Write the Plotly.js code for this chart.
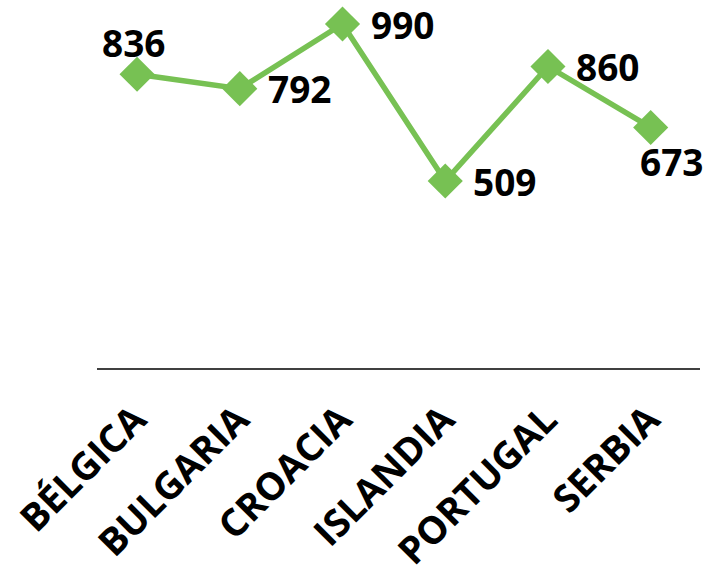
<!DOCTYPE html>
<html>
<head>
<meta charset="utf-8">
<script src="https://cdn.plot.ly/plotly-3.0.1.min.js"></script>
<style>html,body{margin:0;padding:0;background:#fff;}#chart{width:718px;height:579px;}</style>
</head>
<body>
<div id="chart"></div>
<script>
const categories = ["BÉLGICA", "BULGARIA", "CROACIA", "ISLANDIA", "PORTUGAL", "SERBIA"];
const values = [836, 792, 990, 509, 860, 673];
const labelPlacement = ["above", "right", "right", "right", "right", "below"];

const green = "#77C153";
const labelFont = {family: "Open Sans", size: 37, color: "#000", weight: "bold"};

const trace = {
  x: categories.map((c, i) => i),
  y: values,
  mode: "lines+markers",
  line: {color: green, width: 5.5},
  marker: {symbol: "diamond", size: 27, color: green},
  cliponaxis: false,
  hoverinfo: "none"
};

const annotations = values.map((v, i) => {
  const p = labelPlacement[i];
  const a = {
    x: i, y: v, xref: "x", yref: "y",
    text: String(v), showarrow: false, font: labelFont
  };
  if (p === "right") {
    a.xanchor = "left"; a.yanchor = "middle"; a.xshift = 26; a.yshift = 0;
  } else if (p === "above") {
    a.xanchor = "center"; a.yanchor = "middle"; a.xshift = -4; a.yshift = 32;
  } else {
    a.xanchor = "center"; a.yanchor = "middle"; a.xshift = 21; a.yshift = -34;
  }
  return a;
});

const layout = {
  width: 718, height: 579,
  margin: {l: 97, r: 18, t: 10, b: 211},
  paper_bgcolor: "#fff", plot_bgcolor: "#fff",
  showlegend: false,
  annotations: annotations,
  xaxis: {
    range: [-0.39, 5.48],
    tickvals: categories.map((c, i) => i),
    ticktext: categories,
    tickangle: -45,
    ticklabelstandoff: 12,
    ticklabelshift: -2,
    showgrid: false, zeroline: false,
    showline: true, linecolor: "#404040", linewidth: 2,
    ticks: "",
    tickfont: {family: "Open Sans", size: 38, color: "#000", weight: "bold"},
    fixedrange: true
  },
  yaxis: {
    range: [-64, 1033],
    visible: false,
    showgrid: false, zeroline: false,
    fixedrange: true
  }
};

Plotly.newPlot("chart", [trace], layout, {displayModeBar: false, staticPlot: true});
</script>
</body>
</html>
